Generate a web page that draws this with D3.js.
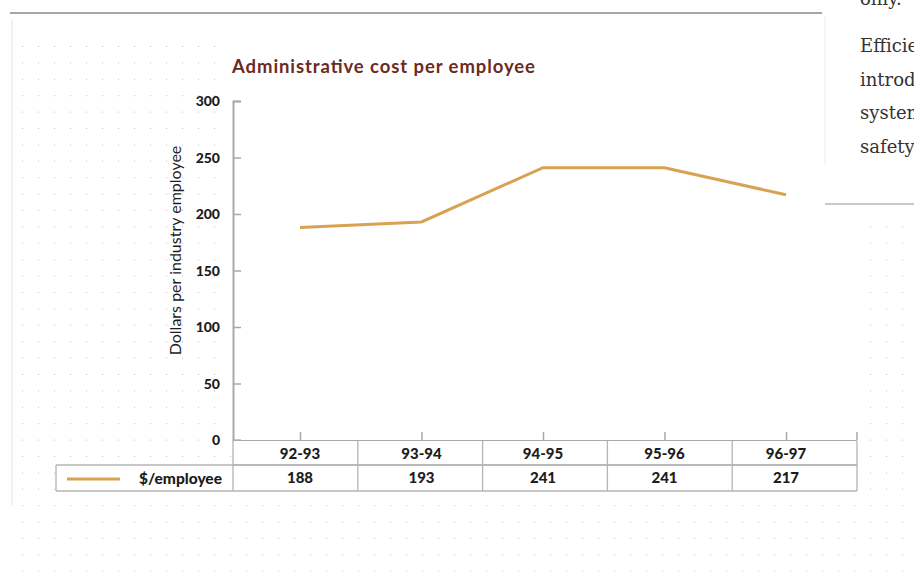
<!DOCTYPE html>
<html>
<head>
<meta charset="utf-8">
<script src="https://cdn.jsdelivr.net/npm/d3@7"></script>
<style>
  html, body { margin: 0; padding: 0; background: #fff; }
  svg { display: block; }
</style>
</head>
<body>
<svg id="chart" width="914" height="577"></svg>
<script>
// Financial years and administrative cost per industry employee ($)
const years = ["92-93", "93-94", "94-95", "95-96", "96-97"];
const costPerEmployee = [188, 193, 241, 241, 217];
const yTicks = [0, 50, 100, 150, 200, 250, 300];
const seriesName = "$/employee";

// Running text of the neighbouring column
const sideText = ["Efficiency", "introduced", "systems", "safety"];
const sideLead = "only.";

const svg = d3.select("#chart");

const lineColor = "#d9a253";
const axisColor = "#a9a9a9";
const textColor = "#1c1c1c";
const sans = "Lato, 'Open Sans', sans-serif";

// Dotted background
const defs = svg.append("defs");
const pat = defs.append("pattern")
  .attr("id", "dots").attr("patternUnits", "userSpaceOnUse")
  .attr("x", 22).attr("y", 46).attr("width", 16).attr("height", 16.4);
pat.append("rect").attr("x", 0).attr("y", 0).attr("width", 1).attr("height", 1)
  .attr("fill", "#bdbdbd");

svg.append("rect").attr("x", 16).attr("y", 38).attr("width", 890).attr("height", 539)
  .attr("fill", "url(#dots)");
// clear panels over the plot and the text column
svg.append("rect").attr("x", 229).attr("y", 20).attr("width", 634).attr("height", 421).attr("fill", "#fff");
svg.append("rect").attr("x", 822).attr("y", 0).attr("width", 92).attr("height", 212).attr("fill", "#fff");

// Frame rules
svg.append("line").attr("x1", 10).attr("x2", 822).attr("y1", 13).attr("y2", 13)
  .attr("stroke", "#8f877c").attr("stroke-width", 1.5);
svg.append("line").attr("x1", 12).attr("x2", 12).attr("y1", 20).attr("y2", 505)
  .attr("stroke", "#e2e2e2").attr("stroke-width", 1);
svg.append("line").attr("x1", 825).attr("x2", 825).attr("y1", 16).attr("y2", 165)
  .attr("stroke", "#ececec").attr("stroke-width", 1);
svg.append("line").attr("x1", 825).attr("x2", 914).attr("y1", 204).attr("y2", 204)
  .attr("stroke", "#8a94a0").attr("stroke-width", 1.2);

// Side column text
const serif = "'DejaVu Serif', 'Liberation Serif', serif";
svg.append("text").attr("x", 860).attr("y", 5)
  .attr("font-family", serif).attr("font-size", 18).attr("fill", "#333").text(sideLead);
svg.append("g").selectAll("text").data(sideText).join("text")
  .attr("x", 860).attr("y", (d, i) => 52 + i * 33.6)
  .attr("font-family", serif).attr("font-size", 18).attr("fill", "#333")
  .text(d => d);

// Scales
const plot = { left: 233, right: 857, top: 101, bottom: 440 };
const y = d3.scaleLinear().domain([0, 300]).range([plot.bottom, plot.top]);
const xCol = d3.scaleBand().domain(years).range([plot.left, plot.right]);
const xPt = d3.scalePoint().domain(years).range([300, 786]);

// Title
svg.append("text").attr("x", 232).attr("y", 73)
  .attr("font-family", sans).attr("font-weight", 700).attr("font-size", 18.5)
  .attr("textLength", 303).attr("lengthAdjust", "spacing")
  .attr("fill", "#6a2b22").text("Administrative cost per employee");

// Y axis
const yAxis = d3.axisRight(y).tickValues(yTicks).tickSize(8).tickFormat("");
const gy = svg.append("g").attr("transform", `translate(${plot.left},0)`).call(yAxis);
gy.select(".domain").attr("stroke", axisColor).attr("stroke-width", 2);
gy.selectAll(".tick line").attr("stroke", axisColor).attr("stroke-width", 1.5);

svg.append("g").selectAll("text").data(yTicks).join("text")
  .attr("x", 220).attr("y", d => y(d) + 5)
  .attr("text-anchor", "end")
  .attr("font-family", sans).attr("font-weight", 900).attr("font-size", 14)
  .attr("fill", textColor).text(d => d);

svg.append("text")
  .attr("transform", `translate(181,${(plot.top + plot.bottom) / 2 - 20}) rotate(-90)`)
  .attr("text-anchor", "middle")
  .attr("font-family", sans).attr("font-size", 16).attr("fill", textColor)
  .text("Dollars per industry employee");

// X axis with small upward ticks
const xAxis = d3.axisTop(xPt).tickSize(8).tickFormat("");
const gx = svg.append("g").attr("transform", `translate(0,${plot.bottom})`).call(xAxis);
gx.select(".domain").remove();
gx.selectAll(".tick line").attr("stroke", axisColor).attr("stroke-width", 1.5);
svg.append("line").attr("x1", plot.left).attr("x2", plot.right)
  .attr("y1", plot.bottom + 1).attr("y2", plot.bottom + 1)
  .attr("stroke", axisColor).attr("stroke-width", 2);
svg.append("line").attr("x1", plot.right).attr("x2", plot.right)
  .attr("y1", plot.bottom - 8).attr("y2", plot.bottom)
  .attr("stroke", axisColor).attr("stroke-width", 1.5);

// Series line
const line = d3.line().x((d, i) => xPt(years[i])).y(d => y(d));
svg.append("path").datum(costPerEmployee)
  .attr("d", line).attr("fill", "none")
  .attr("stroke", lineColor).attr("stroke-width", 3)
  .attr("stroke-linejoin", "miter");

// Data table
const row1 = { top: 441, bottom: 465 };
const row2 = { top: 465, bottom: 491 };
const legendLeft = 56;
const tbl = svg.append("g");
tbl.append("rect").attr("x", legendLeft).attr("y", row2.top)
  .attr("width", plot.right - legendLeft).attr("height", row2.bottom - row2.top)
  .attr("fill", "#fff");
tbl.append("rect").attr("x", plot.left).attr("y", row1.top)
  .attr("width", plot.right - plot.left).attr("height", row1.bottom - row1.top)
  .attr("fill", "#fff");

const border = { stroke: "#b4b4b4", width: 1.3 };
const hLines = [
  [plot.left, plot.right, row1.bottom],
  [legendLeft, plot.right, row2.top],
  [legendLeft, plot.right, row2.bottom]
];
tbl.selectAll("line.h").data(hLines).join("line").attr("class", "h")
  .attr("x1", d => d[0]).attr("x2", d => d[1]).attr("y1", d => d[2]).attr("y2", d => d[2])
  .attr("stroke", border.stroke).attr("stroke-width", border.width);

const colEdges = years.map(d => xCol(d)).concat([plot.right]);
tbl.selectAll("line.v").data(colEdges.slice(1)).join("line").attr("class", "v")
  .attr("x1", d => d).attr("x2", d => d)
  .attr("y1", row1.top).attr("y2", row2.bottom)
  .attr("stroke", border.stroke).attr("stroke-width", border.width);
tbl.append("line").attr("x1", plot.left).attr("x2", plot.left)
  .attr("y1", row1.top).attr("y2", row2.bottom)
  .attr("stroke", border.stroke).attr("stroke-width", border.width);
tbl.append("line").attr("x1", legendLeft).attr("x2", legendLeft)
  .attr("y1", row2.top).attr("y2", row2.bottom)
  .attr("stroke", border.stroke).attr("stroke-width", border.width);

const cellFont = { family: sans, weight: 900, size: 15 };
tbl.selectAll("text.year").data(years).join("text").attr("class", "year")
  .attr("x", d => xPt(d))
  .attr("y", (row1.top + row1.bottom) / 2 + 5.5)
  .attr("text-anchor", "middle")
  .attr("font-family", cellFont.family).attr("font-weight", cellFont.weight)
  .attr("font-size", cellFont.size).attr("fill", textColor).text(d => d);

tbl.selectAll("text.val").data(costPerEmployee).join("text").attr("class", "val")
  .attr("x", (d, i) => xPt(years[i]))
  .attr("y", (row2.top + row2.bottom) / 2 + 4.5)
  .attr("text-anchor", "middle")
  .attr("font-family", cellFont.family).attr("font-weight", cellFont.weight)
  .attr("font-size", cellFont.size).attr("fill", textColor).text(d => d);

// Legend key in the table's first column
tbl.append("line").attr("x1", 67).attr("x2", 120)
  .attr("y1", (row2.top + row2.bottom) / 2 + 1).attr("y2", (row2.top + row2.bottom) / 2 + 1)
  .attr("stroke", lineColor).attr("stroke-width", 3);
tbl.append("text").attr("x", 222).attr("y", (row2.top + row2.bottom) / 2 + 6)
  .attr("text-anchor", "end")
  .attr("font-family", sans).attr("font-weight", 900).attr("font-size", 15.5)
  .attr("fill", textColor).text(seriesName);
</script>
</body>
</html>
